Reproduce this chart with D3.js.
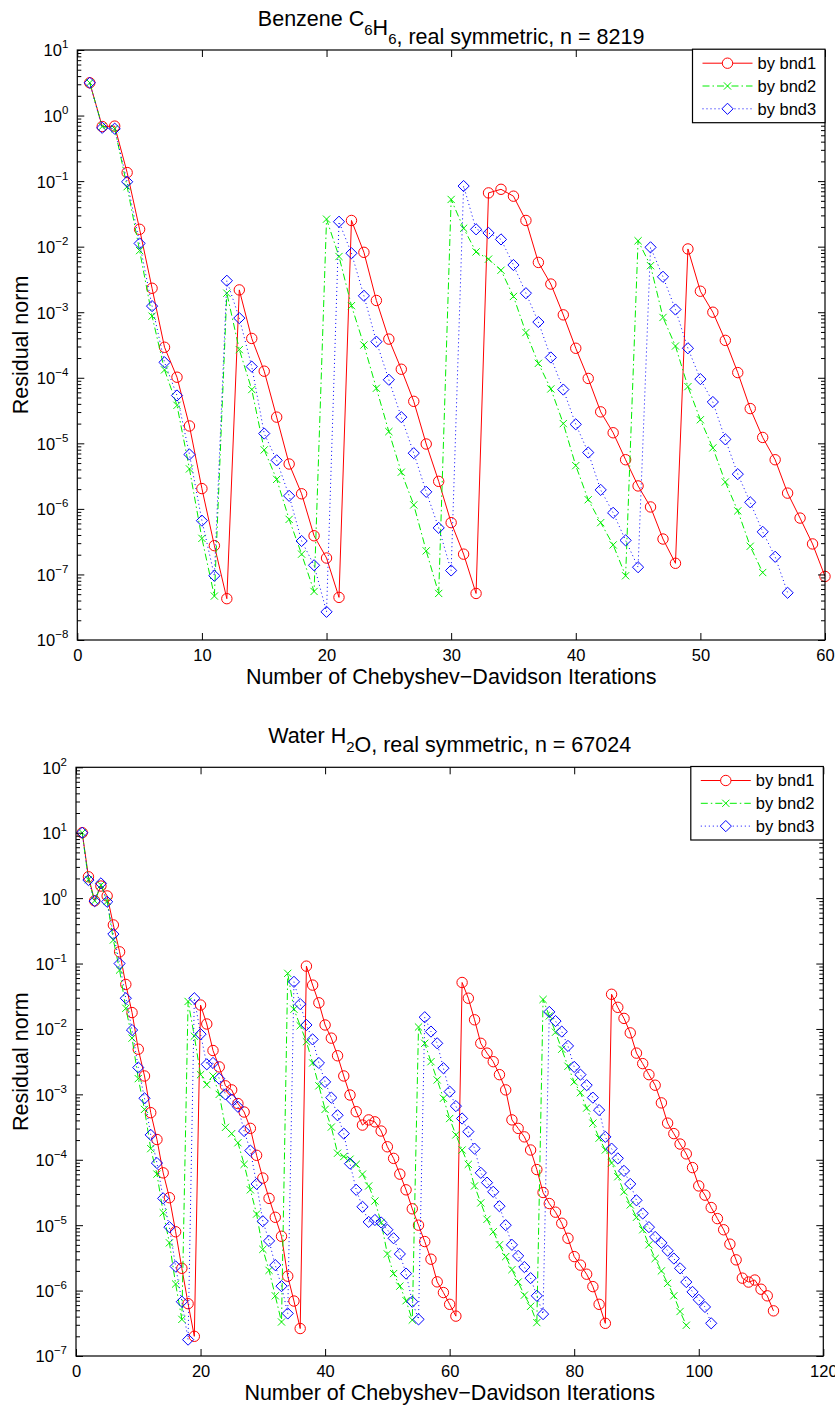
<!DOCTYPE html>
<html>
<head>
<meta charset="utf-8">
<script src="https://cdn.jsdelivr.net/npm/d3@7"></script>
<style>
  body { margin: 0; background: #fff; }
  svg { display: block; }
  text { font-family: "Liberation Sans", Arial, Helvetica, sans-serif; fill: #000; }
</style>
</head>
<body>
<div id="chart"></div>
<script>
// ---- data (residual norm per iteration, iteration = index + 1) ----
var benzeneBnd1 = [3.16, 0.68, 0.69, 0.135, 1.84e-2, 2.32e-3, 2.92e-4, 1.02e-4, 1.84e-5, 2.04e-6,
  2.75e-7, 4.27e-8, 2.19e-3, 3.98e-4, 1.26e-4, 2.51e-5, 4.84e-6, 1.70e-6, 3.89e-7, 1.78e-7,
  4.47e-8, 2.51e-2, 8.20e-3, 1.51e-3, 3.89e-4, 1.35e-4, 4.37e-5, 9.77e-6, 2.63e-6, 6.17e-7,
  2.04e-7, 5.13e-8, 6.61e-2, 7.50e-2, 5.89e-2, 2.51e-2, 5.75e-3, 2.69e-3, 9.12e-4, 2.82e-4,
  9.77e-5, 3.02e-5, 1.45e-5, 5.62e-6, 2.24e-6, 1.07e-6, 3.47e-7, 1.48e-7, 9.23e-3, 2.09e-3,
  1.0e-3, 3.72e-4, 1.20e-4, 3.39e-5, 1.23e-5, 5.62e-6, 1.74e-6, 7.24e-7, 2.92e-7, 9.33e-8];
var benzeneBnd2 = [3.16, 0.68, 0.63, 8.22e-2, 8.71e-3, 8.71e-4, 1.32e-4, 3.80e-5, 4.07e-6, 3.55e-7,
  4.68e-8, 1.95e-3, 2.69e-4, 6.61e-5, 7.94e-6, 2.82e-6, 6.92e-7, 2.04e-7, 5.50e-8, 2.63e-2,
  7.08e-3, 1.26e-3, 3.16e-4, 6.92e-5, 1.51e-5, 3.63e-6, 1.15e-6, 2.29e-7, 5.13e-8, 5.25e-2,
  1.91e-2, 8.32e-3, 6.46e-3, 4.37e-3, 1.74e-3, 4.90e-4, 1.66e-4, 6.76e-5, 2.00e-5, 4.57e-6,
  1.38e-6, 6.17e-7, 2.82e-7, 9.55e-8, 1.23e-2, 5.13e-3, 8.32e-4, 3.05e-4, 7.33e-5, 2.29e-5,
  8.51e-6, 2.57e-6, 9.33e-7, 2.69e-7, 1.07e-7];
var benzeneBnd3 = [3.16, 0.65, 0.63, 9.77e-2, 1.12e-2, 1.24e-3, 1.72e-4, 5.37e-5, 6.76e-6, 6.61e-7,
  9.55e-8, 3.02e-3, 8.13e-4, 1.48e-4, 1.41e-5, 5.50e-6, 1.58e-6, 3.24e-7, 1.38e-7, 2.69e-8,
  2.40e-2, 7.94e-3, 1.78e-3, 3.55e-4, 9.33e-5, 2.51e-5, 7.08e-6, 1.82e-6, 5.13e-7, 1.15e-7,
  8.41e-2, 1.84e-2, 1.62e-2, 1.29e-2, 5.25e-3, 1.95e-3, 7.08e-4, 2.04e-4, 6.61e-5, 1.95e-5,
  7.24e-6, 1.95e-6, 8.71e-7, 3.31e-7, 1.29e-7, 9.77e-3, 3.47e-3, 1.10e-3, 2.82e-4, 9.55e-5,
  4.27e-5, 1.15e-5, 3.39e-6, 1.26e-6, 4.47e-7, 1.86e-7, 5.25e-8];

var waterBnd1 = [10.0, 2.12, 0.91, 1.53, 1.08, 0.389, 0.151, 4.79e-2, 1.78e-2, 4.90e-3,
  1.91e-3, 5.25e-4, 2.04e-4, 6.31e-5, 2.63e-5, 7.94e-6, 2.19e-6, 6.31e-7, 2.00e-7, 2.32e-2,
  1.19e-2, 4.68e-3, 2.63e-3, 1.35e-3, 1.17e-3, 7.24e-4, 5.37e-4, 3.02e-4, 1.17e-4, 5.25e-5,
  2.57e-5, 1.32e-5, 6.76e-6, 1.66e-6, 6.92e-7, 2.63e-7, 9.12e-2, 4.68e-2, 2.51e-2, 1.15e-2,
  7.24e-3, 3.89e-3, 1.91e-3, 9.77e-4, 5.43e-4, 3.39e-4, 4.07e-4, 3.80e-4, 2.75e-4, 1.58e-4,
  1.05e-4, 6.03e-5, 3.47e-5, 1.78e-5, 1.00e-5, 5.62e-6, 3.02e-6, 1.36e-6, 9.33e-7, 6.17e-7,
  4.07e-7, 5.13e-2, 2.95e-2, 1.38e-2, 6.03e-3, 4.27e-3, 3.16e-3, 2.00e-3, 1.17e-3, 4.07e-4,
  3.02e-4, 2.24e-4, 1.41e-4, 7.08e-5, 3.16e-5, 2.14e-5, 1.58e-5, 1.07e-5, 6.31e-6, 3.31e-6,
  2.45e-6, 1.78e-6, 1.15e-6, 6.17e-7, 3.16e-7, 3.39e-2, 2.14e-2, 1.45e-2, 8.71e-3, 4.27e-3,
  2.95e-3, 2.00e-3, 1.38e-3, 7.41e-4, 3.63e-4, 2.51e-4, 1.74e-4, 1.23e-4, 7.59e-5, 3.98e-5,
  2.88e-5, 1.86e-5, 1.26e-5, 8.51e-6, 5.13e-6, 2.95e-6, 1.55e-6, 1.35e-6, 1.45e-6, 1.05e-6,
  8.32e-7, 4.90e-7];
var waterBnd2 = [10.0, 1.91, 0.91, 1.58, 0.89, 0.229, 7.94e-2, 2.07e-2, 7.24e-3, 1.74e-3,
  5.89e-4, 1.48e-4, 6.03e-5, 1.55e-5, 5.37e-6, 1.26e-6, 3.63e-7, 2.63e-2, 7.76e-3, 2.00e-3,
  1.41e-3, 1.91e-3, 1.00e-3, 3.13e-4, 2.51e-4, 1.82e-4, 8.51e-5, 3.47e-5, 1.48e-5, 4.27e-6,
  2.04e-6, 8.32e-7, 3.31e-7, 7.08e-2, 2.00e-2, 1.12e-2, 6.38e-3, 3.02e-3, 1.35e-3, 5.89e-4,
  3.16e-4, 1.26e-4, 1.12e-4, 1.02e-4, 8.51e-5, 6.03e-5, 3.98e-5, 2.34e-5, 1.10e-5, 3.63e-6,
  1.82e-6, 1.17e-6, 7.00e-7, 3.55e-7, 1.07e-2, 6.03e-3, 3.16e-3, 1.66e-3, 8.71e-4, 4.27e-4,
  2.40e-4, 1.41e-4, 8.51e-5, 3.98e-5, 2.19e-5, 1.23e-5, 7.94e-6, 5.01e-6, 3.31e-6, 2.09e-6,
  1.35e-6, 8.51e-7, 5.75e-7, 3.24e-7, 2.82e-2, 1.58e-2, 8.91e-3, 4.90e-3, 2.69e-3, 1.55e-3,
  1.06e-3, 6.17e-4, 3.63e-4, 2.14e-4, 1.41e-4, 8.91e-5, 5.50e-5, 3.24e-5, 2.04e-5, 1.32e-5,
  8.51e-6, 5.01e-6, 3.09e-6, 2.00e-6, 1.29e-6, 8.32e-7, 4.79e-7, 2.95e-7];
var waterBnd3 = [10.0, 1.89, 0.90, 1.68, 0.88, 0.282, 0.100, 2.95e-2, 9.62e-3, 2.57e-3,
  8.71e-4, 2.40e-4, 8.91e-5, 2.57e-5, 9.33e-6, 2.34e-6, 6.76e-7, 1.78e-7, 2.95e-2, 8.32e-3,
  2.88e-3, 3.02e-3, 1.74e-3, 1.00e-3, 8.32e-4, 6.46e-4, 2.75e-4, 1.38e-4, 4.27e-5, 1.15e-5,
  5.75e-6, 2.45e-6, 1.17e-6, 4.47e-7, 5.25e-2, 2.40e-2, 1.15e-2, 6.92e-3, 3.02e-3, 1.55e-3,
  8.91e-4, 4.79e-4, 2.51e-4, 8.71e-5, 3.47e-5, 1.91e-5, 1.12e-5, 1.20e-5, 1.10e-5, 8.51e-6,
  6.31e-6, 3.63e-6, 1.82e-6, 6.76e-7, 3.63e-7, 1.51e-2, 9.12e-3, 6.03e-3, 2.51e-3, 1.10e-3,
  6.61e-4, 4.27e-4, 2.69e-4, 1.48e-4, 6.31e-5, 4.47e-5, 3.24e-5, 1.95e-5, 1.00e-5, 5.01e-6,
  3.39e-6, 2.29e-6, 1.55e-6, 8.32e-7, 4.37e-7, 1.82e-2, 1.32e-2, 9.12e-3, 5.50e-3, 2.63e-3,
  2.00e-3, 1.38e-3, 8.91e-4, 5.75e-4, 2.24e-4, 1.48e-4, 1.05e-4, 6.76e-5, 4.27e-5, 2.40e-5,
  1.51e-5, 9.33e-6, 6.61e-6, 5.37e-6, 4.07e-6, 3.09e-6, 2.19e-6, 1.35e-6, 9.55e-7, 7.24e-7,
  5.62e-7, 3.16e-7];

var legendNames = ["by bnd1", "by bnd2", "by bnd3"];
var benzeneXTicks = [0, 10, 20, 30, 40, 50, 60];
var waterXTicks = [0, 20, 40, 60, 80, 100, 120];
var benzeneYExps = [1, 0, -1, -2, -3, -4, -5, -6, -7, -8];
var waterYExps = [2, 1, 0, -1, -2, -3, -4, -5, -6, -7];

// ---- styles ----
var seriesStyle = [
  {color: "#ff0000", dash: null, marker: "circle"},
  {color: "#00ee00", dash: "7,3,1.5,3", marker: "cross"},
  {color: "#0000ff", dash: "1,3", marker: "diamond"}
];

var svg = d3.select("#chart").append("svg")
  .attr("width", 835)
  .attr("height", 1407);

function markerPath(kind) {
  if (kind == "cross") return "M-3.6,-3.6L3.6,3.6M-3.6,3.6L3.6,-3.6";
  if (kind == "diamond") return "M0,-5.6L5.6,0L0,5.6L-5.6,0Z";
  return d3.symbol().type(d3.symbolCircle).size(Math.PI * 5.2 * 5.2)();
}

function drawPanel(p) {
  var x = d3.scaleLinear().domain([0, p.xMax]).range([p.left, p.right]);
  var y = d3.scaleLog().domain([Math.pow(10, d3.min(p.yExps)), Math.pow(10, d3.max(p.yExps))])
    .range([p.bottom, p.top]);

  var majors = p.yExps.map(function(e) { return Math.pow(10, e); });
  var minors = [];
  p.yExps.forEach(function(e) {
    if (e == d3.max(p.yExps)) return;
    for (var k = 2; k <= 9; k++) minors.push(k * Math.pow(10, e));
  });

  var g = svg.append("g");

  // series: lines then markers, bnd1 first
  p.series.forEach(function(vals, si) {
    var st = seriesStyle[si];
    var pts = vals.map(function(v, i) { return {it: i + 1, v: v}; });
    var line = d3.line()
      .x(function(d) { return x(d.it); })
      .y(function(d) { return y(d.v); });
    g.append("path")
      .attr("d", line(pts))
      .attr("fill", "none")
      .attr("stroke", st.color)
      .attr("stroke-width", 1)
      .attr("stroke-dasharray", st.dash);
    g.selectAll(".m" + si)
      .data(pts)
      .enter()
      .append("path")
        .attr("class", "m" + si)
        .attr("d", markerPath(st.marker))
        .attr("transform", function(d) { return "translate(" + x(d.it) + "," + y(d.v) + ")"; })
        .attr("fill", "none")
        .attr("stroke", st.color)
        .attr("stroke-width", 1);
  });

  // axes (ticks pointing inward like matlab)
  var xb = g.append("g")
    .attr("transform", "translate(0," + p.bottom + ")")
    .call(d3.axisBottom(x).tickValues(p.xTicks).tickSizeInner(-7).tickSizeOuter(0).tickPadding(9).tickFormat(d3.format("d")));
  xb.selectAll("text").style("font-size", "16.5px").attr("fill", "#000");
  g.append("g")
    .attr("transform", "translate(0," + p.top + ")")
    .call(d3.axisTop(x).tickValues(p.xTicks).tickSizeInner(-7).tickSizeOuter(0).tickFormat(""));

  var yl = g.append("g")
    .attr("transform", "translate(" + p.left + ",0)")
    .call(d3.axisLeft(y).tickValues(majors).tickSizeInner(-7).tickSizeOuter(0).tickPadding(9).tickFormat(""));
  g.append("g")
    .attr("transform", "translate(" + p.left + ",0)")
    .call(d3.axisLeft(y).tickValues(minors).tickSizeInner(-4).tickSizeOuter(0).tickFormat(""));
  g.append("g")
    .attr("transform", "translate(" + p.right + ",0)")
    .call(d3.axisRight(y).tickValues(majors).tickSizeInner(-7).tickSizeOuter(0).tickFormat(""));
  g.append("g")
    .attr("transform", "translate(" + p.right + ",0)")
    .call(d3.axisRight(y).tickValues(minors).tickSizeInner(-4).tickSizeOuter(0).tickFormat(""));

  // 10^k labels with superscripts
  yl.selectAll(".tick text").each(function(d) {
    var e = Math.round(Math.log10(d));
    var t = d3.select(this).attr("fill", "#000").style("font-size", "16.5px").attr("dy", "0.36em");
    t.append("tspan").text("10");
    t.append("tspan").attr("dy", -8).style("font-size", "11.5px").text(String(e).replace("-", "\u2212"));
  });

  g.selectAll(".domain").remove();
  g.selectAll(".tick line").attr("stroke", "#000");

  g.append("rect")
    .attr("x", p.left).attr("y", p.top)
    .attr("width", p.right - p.left).attr("height", p.bottom - p.top)
    .attr("fill", "none").attr("stroke", "#000").attr("stroke-width", 1.2);

  // title with subscripts
  var title = g.append("text")
    .attr("x", (p.left + p.right) / 2)
    .attr("y", p.top - 24.5)
    .attr("text-anchor", "middle")
    .style("font-size", "21.5px");
  p.title.forEach(function(part) {
    if (part.sub) {
      title.append("tspan").attr("dy", 9).style("font-size", "15px").text(part.sub);
      title.append("tspan").attr("dy", -9).text("");
    } else {
      title.append("tspan").text(part.t);
    }
  });

  // axis labels
  g.append("text")
    .attr("x", (p.left + p.right) / 2)
    .attr("y", p.bottom + 44)
    .attr("text-anchor", "middle")
    .style("font-size", "21.5px")
    .text("Number of Chebyshev\u2212Davidson Iterations");
  g.append("text")
    .attr("transform", "translate(28," + (p.top + p.bottom) / 2 + ")rotate(-90)")
    .attr("text-anchor", "middle")
    .style("font-size", "21.5px")
    .text("Residual norm");

  // legend
  var lw = 132.5, lx = p.right - lw, ly = p.top - 0.8;
  var leg = g.append("g").attr("transform", "translate(" + lx + "," + ly + ")");
  leg.append("rect")
    .attr("width", lw).attr("height", 73.5)
    .attr("fill", "#fff").attr("stroke", "#000").attr("stroke-width", 1.2);
  legendNames.forEach(function(name, i) {
    var st = seriesStyle[i];
    var ry = 14 + i * 22.8;
    leg.append("line")
      .attr("x1", 10).attr("x2", 60).attr("y1", ry).attr("y2", ry)
      .attr("stroke", st.color).attr("stroke-width", 1)
      .attr("stroke-dasharray", st.dash);
    leg.append("path")
      .attr("d", markerPath(st.marker))
      .attr("transform", "translate(35," + ry + ")")
      .attr("fill", "#fff").attr("stroke", st.color);
    leg.append("text")
      .attr("x", 65).attr("y", ry).attr("dy", "0.36em")
      .style("font-size", "16.5px")
      .text(name);
  });
}

drawPanel({
  left: 77.3, right: 825, top: 50, bottom: 640, xMax: 60,
  xTicks: benzeneXTicks, yExps: benzeneYExps,
  series: [benzeneBnd1, benzeneBnd2, benzeneBnd3],
  title: [{t: "Benzene C"}, {sub: "6"}, {t: "H"}, {sub: "6"}, {t: ", real symmetric, n = 8219"}]
});

drawPanel({
  left: 76, right: 823.3, top: 767.3, bottom: 1356, xMax: 120,
  xTicks: waterXTicks, yExps: waterYExps,
  series: [waterBnd1, waterBnd2, waterBnd3],
  title: [{t: "Water H"}, {sub: "2"}, {t: "O, real symmetric, n = 67024"}]
});
</script>
</body>
</html>
